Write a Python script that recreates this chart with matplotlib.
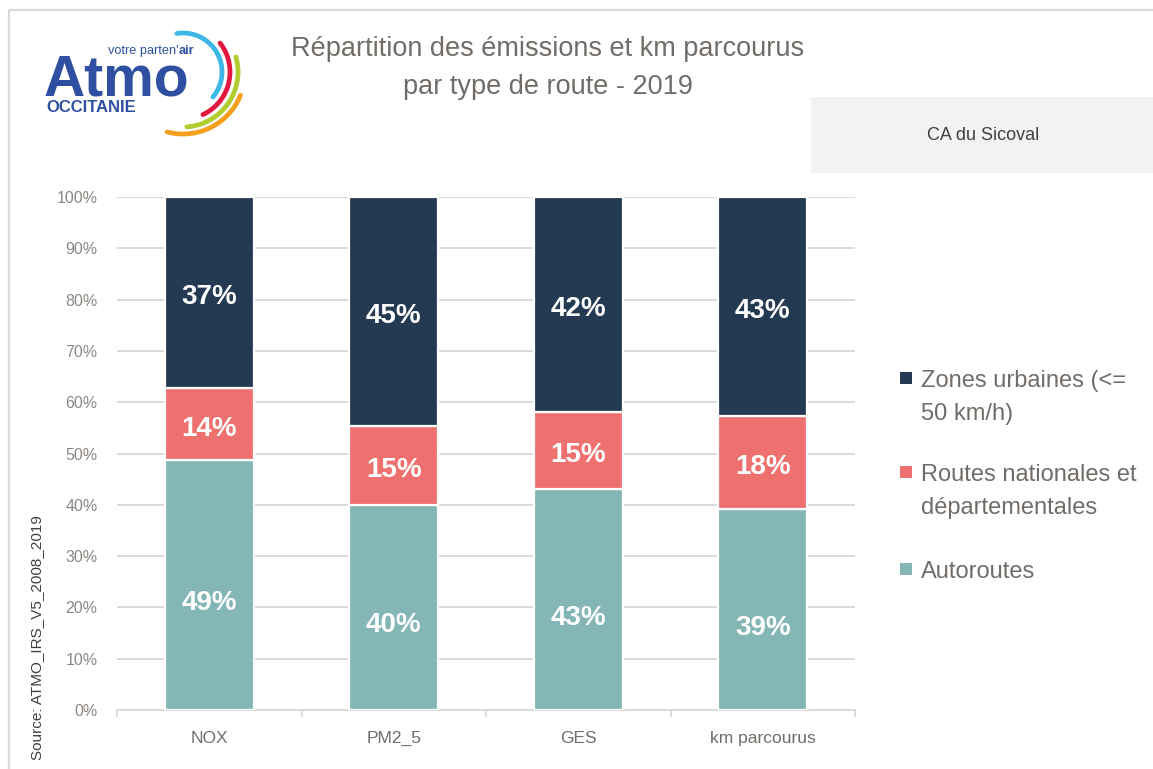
import numpy as np
import matplotlib
matplotlib.use("Agg")
import matplotlib.pyplot as plt
from matplotlib.patches import Rectangle
from matplotlib import font_manager as fm

# ---- data ----
categories = ["NOX", "PM2_5", "GES", "km parcourus"]
autoroutes = [48.7, 40.0, 43.1, 39.2]
routes = [14.1, 15.4, 15.0, 18.1]
urbaines = [37.2, 44.6, 41.9, 42.7]
series_names = ["Zones urbaines (<=\n50 km/h)", "Routes nationales et\ndépartementales", "Autoroutes"]
yticks = [0, 10, 20, 30, 40, 50, 60, 70, 80, 90, 100]
title = "Répartition des émissions et km parcourus\npar type de route - 2019"
territory = "CA du Sicoval"
source = "Source: ATMO_IRS_V5_2008_2019"

C_URB = "#243a52"
C_RTE = "#ee7170"
C_AUT = "#84b6b6"
GRID = "#d9d9d9"
TXT = "#716c67"


def has_font(name):
    try:
        fm.findfont(fm.FontProperties(family=name), fallback_to_default=False)
        return True
    except Exception:
        return False


NARROW = "Liberation Sans Narrow" if has_font("Liberation Sans Narrow") else "Liberation Sans"
plt.rcParams["font.family"] = ["Liberation Sans", "DejaVu Sans"]

W, H = 1153, 769
fig = plt.figure(figsize=(W / 100, H / 100), dpi=100)

# background / decoration layer in pixel coordinates
bg = fig.add_axes([0, 0, 1, 1])
bg.set_xlim(0, W)
bg.set_ylim(H, 0)
bg.axis("off")

# frame
bg.plot([9, 9], [10, H], color=GRID, lw=1.6, solid_capstyle="butt")
bg.plot([9, W], [10, 10], color=GRID, lw=1.6, solid_capstyle="butt")

# logo
blue = "#2f4fa0"
bg.text(44, 95, "Atmo", fontsize=41, fontweight="bold", color=blue, ha="left", va="baseline")
bg.text(179, 54, "votre parten'", fontsize=9.2, color=blue, ha="right", va="baseline")
bg.text(179, 54, "air", fontsize=9.2, fontweight="bold", color=blue, ha="left", va="baseline")
bg.text(46, 107, "OCCITANIE", fontsize=12, fontweight="bold", color=blue, ha="left", va="center")
cx, cy = 183, 72
arcs = [(39, 99, -40, "#3cb7e6"), (47, 38, -65, "#e2173f"), (55, 16, -86, "#b0cc2e"), (62, -22, -105, "#f5a01c")]
for r, a1, a2, col in arcs:
    t = np.radians(np.linspace(a1, a2, 80))
    bg.plot(cx + r * np.cos(t), cy - r * np.sin(t), color=col, lw=3.4, solid_capstyle="round")

# title
bg.text(548, 68, title, fontsize=19.5, color=TXT, ha="center", va="center", linespacing=1.55)

# territory box
bg.add_patch(Rectangle((811, 97), W - 811, 76, facecolor="#f2f2f2", edgecolor="none"))
bg.text(983, 136, territory, fontsize=13, color="#404040", ha="center", va="center")

# source
bg.text(37, 638, source, fontsize=11, color="#404040", rotation=90, ha="center", va="center",
        family=NARROW)

# legend (manual)
leg_colors = [C_URB, C_RTE, C_AUT]
leg_y = [378, 472, 569]
for name, col, y in zip(series_names, leg_colors, leg_y):
    bg.add_patch(Rectangle((900, y - 6), 12, 12, facecolor=col, edgecolor="none"))
    bg.text(921, y - 8, name, fontsize=17, color=TXT, ha="left", va="top", linespacing=1.63)

# main chart
ax = fig.add_axes([117 / W, 1 - 710 / H, (855 - 117) / W, (710 - 197) / H])
ax.set_facecolor("none")
x = np.arange(len(categories))
bw = 0.48
b1 = ax.bar(x, autoroutes, bw, color=C_AUT, edgecolor="white", linewidth=1.6, zorder=3)
bot2 = np.array(autoroutes)
b2 = ax.bar(x, routes, bw, bottom=bot2, color=C_RTE, edgecolor="white", linewidth=1.6, zorder=3)
bot3 = bot2 + np.array(routes)
b3 = ax.bar(x, urbaines, bw, bottom=bot3, color=C_URB, edgecolor="white", linewidth=1.6, zorder=3)

for bars, vals, dy in [(b1, autoroutes, -13), (b2, routes, -3.5), (b3, urbaines, -3)]:
    labs = ax.bar_label(bars, labels=[f"{round(v)}%" for v in vals], label_type="center",
                        color="white", fontsize=20, fontweight="bold", family=NARROW)
    for t in labs:
        t.xyann = (0, dy)

ax.set_xlim(-0.5, len(categories) - 0.5)
ax.set_ylim(0, 100)
ax.set_yticks(yticks)
ax.set_yticklabels([f"{v}%" for v in yticks], family=NARROW, fontsize=11.5, color="#8c8782")
ax.yaxis.grid(True, color=GRID, lw=1.4, zorder=0)
ax.tick_params(axis="y", length=0, pad=14)
ax.set_xticks(x)
ax.set_xticklabels(categories, fontsize=12.5, color=TXT)
ax.tick_params(axis="x", which="major", length=0, pad=15)
ax.set_xticks(np.arange(-0.5, len(categories)), minor=True)
ax.tick_params(axis="x", which="minor", length=5, width=1.3, color=GRID)
for s in ["top", "right", "left"]:
    ax.spines[s].set_visible(False)
ax.spines["bottom"].set_color(GRID)
ax.spines["bottom"].set_linewidth(1.4)
ax.set_axisbelow(True)

fig.savefig("out.png", dpi=100)
